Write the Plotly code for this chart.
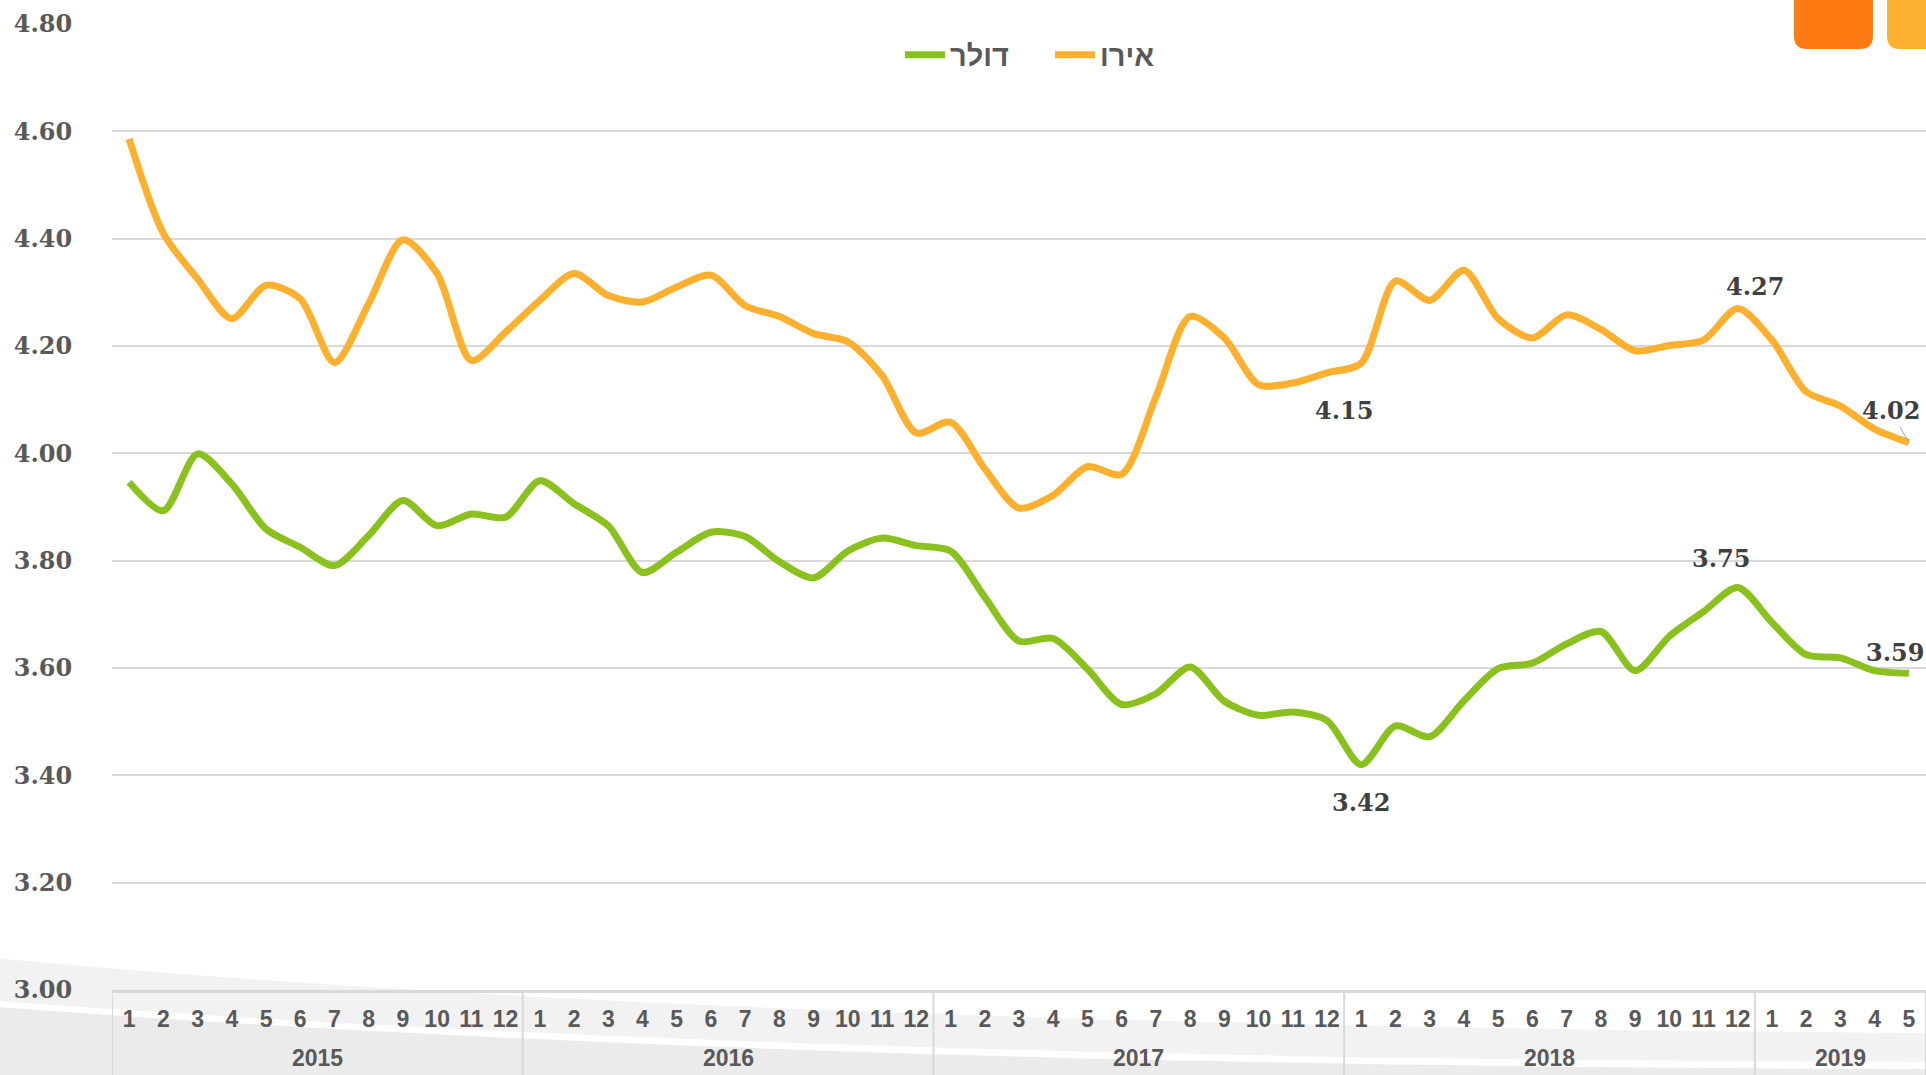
import plotly.graph_objects as go

# ---------------- data ----------------
years = ["2015", "2016", "2017", "2018", "2019"]
months_per_year = [12, 12, 12, 12, 5]
month_labels = [str(m) for n in months_per_year for m in range(1, n + 1)]

usd = [3.946, 3.893, 3.999, 3.943, 3.859, 3.825, 3.791, 3.847, 3.912, 3.865, 3.887, 3.881,
       3.949, 3.906, 3.865, 3.778, 3.816, 3.853, 3.845, 3.798, 3.768, 3.818, 3.842, 3.828,
       3.818, 3.732, 3.650, 3.655, 3.598, 3.532, 3.552, 3.602, 3.538, 3.512, 3.518, 3.502,
       3.420, 3.492, 3.472, 3.539, 3.599, 3.609, 3.645, 3.668, 3.595, 3.659, 3.705, 3.750,
       3.685, 3.625, 3.619, 3.595, 3.590]
eur = [4.586, 4.410, 4.325, 4.251, 4.313, 4.288, 4.169, 4.279, 4.398, 4.335, 4.173, 4.226,
       4.285, 4.335, 4.294, 4.282, 4.310, 4.332, 4.275, 4.255, 4.223, 4.208, 4.145, 4.038,
       4.058, 3.971, 3.898, 3.922, 3.975, 3.961, 4.105, 4.255, 4.215, 4.128, 4.131, 4.150,
       4.168, 4.321, 4.285, 4.341, 4.251, 4.215, 4.258, 4.231, 4.191, 4.201, 4.211, 4.270,
       4.211, 4.115, 4.088, 4.045, 4.020]

usd_name = "דולר"
eur_name = "אירו"
y_ticks = [3.0, 3.2, 3.4, 3.6, 3.8, 4.0, 4.2, 4.4, 4.6, 4.8]

# ---------------- layout constants ----------------
W, H = 1926, 1075
ML, MR, MT, MB = 112, 0, 24, 85
PW, PH = W - ML - MR, H - MT - MB

GREEN = "#8BC11F"
ORANGE = "#FBB12F"
GRID = "#D9D9D9"
TXT = "#595959"
LBL = "#404040"
SERIF = "DejaVu Serif, Liberation Serif, serif"
SANS = "Liberation Sans, Arial, DejaVu Sans, sans-serif"


def P(px, py):
    return (px - ML) / PW, 1 - (py - MT) / PH


def pt(px, py):
    x, y = P(px, py)
    return f"{x:.5f},{y:.5f}"


x = list(range(len(month_labels)))

fig = go.Figure()
fig.add_trace(go.Scatter(x=x, y=usd, name=usd_name, mode="lines",
                         line=dict(color=GREEN, width=7, shape="spline", smoothing=0.8)))
fig.add_trace(go.Scatter(x=x, y=eur, name=eur_name, mode="lines",
                         line=dict(color=ORANGE, width=7, shape="spline", smoothing=0.8)))

shapes = []
# background swoosh (bottom decoration)
shapes.append(dict(type="path", xref="paper", yref="paper", layer="below", line=dict(width=0),
                   fillcolor="#F2F2F2",
                   path=f"M {pt(-5,958)} Q {pt(700,1025)} {pt(1935,1033)} L {pt(1935,1080)} L {pt(-5,1080)} Z"))
shapes.append(dict(type="path", xref="paper", yref="paper", layer="below", line=dict(width=0),
                   fillcolor="#FFFFFF",
                   path=f"M {pt(-5,1001)} Q {pt(800,1060)} {pt(1935,1062)} L {pt(1935,1080)} L {pt(-5,1080)} Z"))
shapes.append(dict(type="path", xref="paper", yref="paper", layer="below", line=dict(width=0),
                   fillcolor="#EBEBEB",
                   path=f"M {pt(-5,1007)} Q {pt(800,1067)} {pt(1935,1069)} L {pt(1935,1080)} L {pt(-5,1080)} Z"))


def rbox(x0, x1, ytop, ybot, r, color):
    path = (f"M {pt(x0,ytop)} L {pt(x1,ytop)} L {pt(x1,ybot-r)} Q {pt(x1,ybot)} {pt(x1-r,ybot)} "
            f"L {pt(x0+r,ybot)} Q {pt(x0,ybot)} {pt(x0,ybot-r)} Z")
    return dict(type="path", xref="paper", yref="paper", layer="below", line=dict(width=0),
                fillcolor=color, path=path)


shapes.append(rbox(1794, 1873, -5, 49, 13, "#FE7A12"))
shapes.append(rbox(1887, 1960, -5, 49, 13, "#FCB131"))

# year group dividers on the category axis
start = 0
bounds = [-0.5]
for n in months_per_year:
    start += n
    bounds.append(start - 0.5)
y_bottom = P(0, 1080)[1]
for b in bounds:
    shapes.append(dict(type="line", xref="x", yref="paper", x0=b, x1=b, y0=0, y1=y_bottom,
                       line=dict(color=GRID, width=2), layer="above"))

annotations = []
# year labels
start = 0
for yr, n in zip(years, months_per_year):
    annotations.append(dict(x=start + (n - 1) / 2, y=P(0, 1058)[1], xref="x", yref="paper",
                            text=yr, showarrow=False, yanchor="middle",
                            font=dict(family=SANS, size=23, color=TXT, weight="bold")))
    start += n

lab_font = dict(family=SERIF, size=24, color=LBL, weight="bold")
i_min_usd = usd.index(min(usd[30:]))
i_peak = 47
i_last = len(x) - 1
i_eur_low = 35
label_specs = [
    (i_eur_low, eur[i_eur_low], 17, -38),
    (i_peak, eur[i_peak], 17, 22),
    (i_min_usd, usd[i_min_usd], 0, -38),
    (i_peak, usd[i_peak], -17, 29),
    (i_last, usd[i_last], -14, 21),
]
for i, v, xs, ys in label_specs:
    annotations.append(dict(x=i, y=v, xref="x", yref="y", text=f"{v:.2f}", showarrow=False,
                            xshift=xs, yshift=ys, font=lab_font))
annotations.append(dict(x=i_last, y=eur[i_last], xref="x", yref="y", text=f"{eur[i_last]:.2f}",
                        showarrow=True, arrowhead=0, arrowwidth=1, arrowcolor="#A6A6A6",
                        ax=-18, ay=-32, standoff=0, font=lab_font))

fig.update_layout(
    width=W, height=H,
    margin=dict(l=ML, r=MR, t=MT, b=MB),
    paper_bgcolor="white", plot_bgcolor="rgba(0,0,0,0)",
    showlegend=True,
    legend=dict(orientation="h", x=P(900, 0)[0], xanchor="left", y=P(0, 55)[1], yanchor="middle",
                font=dict(family=SANS, size=29, color=TXT, weight="bold"),
                bgcolor="rgba(0,0,0,0)", entrywidth=95, entrywidthmode="pixels",
                itemwidth=40, tracegroupgap=0),
    shapes=shapes,
    annotations=annotations,
    xaxis=dict(range=[-0.5, len(x) - 0.5], tickmode="array", tickvals=x, ticktext=month_labels,
               showgrid=False, zeroline=False, showline=True, linecolor=GRID, linewidth=3,
               ticks="outside", ticklen=6, tickcolor="rgba(0,0,0,0)",
               tickfont=dict(family=SANS, size=23, color=TXT, weight="bold"),
               fixedrange=True),
    yaxis=dict(range=[3.0, 4.8], tickmode="array", tickvals=y_ticks, tickformat=".2f",
               showgrid=True, gridcolor=GRID, gridwidth=2, zeroline=False, showline=False,
               ticks="outside", ticklen=34, tickcolor="rgba(0,0,0,0)",
               tickfont=dict(family=SERIF, size=24, color=TXT, weight="bold"),
               fixedrange=True),
)

fig.write_html("out.html", config={"displayModeBar": False},
               post_script="document.body.style.margin='0px';document.body.style.overflow='hidden';")
